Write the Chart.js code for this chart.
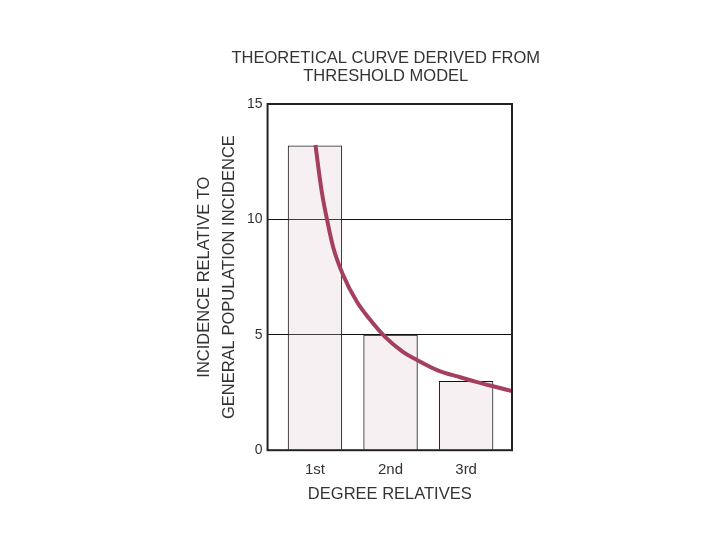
<!DOCTYPE html>
<html lang="en">
<head>
    <meta charset="UTF-8">
    <title>Theoretical curve derived from threshold model</title>
    <script src="https://cdn.jsdelivr.net/npm/chart.js"></script>
    <style>
        html, body { margin: 0; padding: 0; background: #fff; }
        #wrap { width: 720px; height: 540px; }
    </style>
</head>
<body>
    <div id="wrap"><canvas id="chart"></canvas></div>

    <script>
        // degree of relationship -> observed incidence (bars)
        const degrees = [1, 2, 3];
        const degreeLabels = ['1st', '2nd', '3rd'];
        const barValues = [13.2, 5.0, 3.0];

        // theoretical curve
        const curveX = [1.007, 1.046, 1.095, 1.161, 1.244, 1.372, 1.557, 1.733, 1.931, 2.168, 2.327, 2.617, 2.921, 3.145, 3.356, 3.607];
        const curveY = [13.22, 12.22, 11.1, 9.97, 8.76, 7.59, 6.42, 5.64, 4.9, 4.25, 3.95, 3.47, 3.16, 2.95, 2.77, 2.56];

        const yTicks = [0, 5, 10, 15];
        const titleLines = ['THEORETICAL CURVE DERIVED FROM', 'THRESHOLD MODEL'];

        const textColor = '#333';
        const font = 'Liberation Sans, Arial, sans-serif';

        // box round the plot area, and the title centred over it
        const frame = {
            id: 'frame',
            afterDatasetsDraw(chart) {
                const a = chart.chartArea, c = chart.ctx;
                c.save();
                c.strokeStyle = '#222';
                c.lineWidth = 2;
                c.strokeRect(a.left, a.top, a.right - a.left, a.bottom - a.top);
                c.fillStyle = textColor;
                c.font = '16.5px ' + font;
                c.textAlign = 'center';
                c.textBaseline = 'middle';
                const cx = (a.left + a.right) / 2 - 4;
                titleLines.forEach((t, i) => c.fillText(t, cx, a.top - 46 + i * 18));
                c.restore();
            }
        };

        new Chart(document.getElementById('chart'), {
            data: {
                datasets: [
                    {
                        type: 'line',
                        data: curveX.map((x, i) => ({ x, y: curveY[i] })),
                        borderColor: '#a4405e',
                        borderWidth: 4,
                        pointRadius: 0,
                        cubicInterpolationMode: 'monotone',
                        fill: false,
                        clip: 0
                    },
                    {
                        type: 'bar',
                        data: degrees.map((d, i) => ({ x: d, y: barValues[i] })),
                        backgroundColor: 'rgba(225, 195, 205, 0.25)',
                        borderColor: '#111',
                        borderWidth: 1,
                        borderSkipped: 'bottom',
                        barPercentage: 0.72,
                        categoryPercentage: 1
                    }
                ]
            },
            options: {
                responsive: true,
                maintainAspectRatio: false,
                animation: false,
                layout: { padding: { left: 184.5, right: 208, top: 104, bottom: 36 } },
                plugins: {
                    legend: { display: false },
                    tooltip: { enabled: false },
                    title: { display: false }
                },
                scales: {
                    x: {
                        type: 'linear',
                        offset: false,
                        min: 0.373,
                        max: 3.607,
                        afterBuildTicks: s => { s.ticks = degrees.map(v => ({ value: v })); },
                        ticks: {
                            color: textColor,
                            font: { family: font, size: 15 },
                            padding: 11,
                            callback: v => degreeLabels[degrees.indexOf(v)] || ''
                        },
                        grid: { display: false, drawTicks: false },
                        border: { display: false },
                        title: {
                            display: true,
                            text: 'DEGREE RELATIVES',
                            color: textColor,
                            font: { family: font, size: 16.5 },
                            padding: { top: -6, bottom: 0 }
                        }
                    },
                    y: {
                        min: 0,
                        max: 15,
                        afterBuildTicks: s => { s.ticks = yTicks.map(v => ({ value: v })); },
                        ticks: {
                            color: textColor,
                            font: { family: font, size: 14 },
                            padding: 5
                        },
                        grid: { color: '#111', lineWidth: 1, drawTicks: false },
                        border: { display: false },
                        title: {
                            display: true,
                            text: ['INCIDENCE RELATIVE TO', 'GENERAL POPULATION INCIDENCE'],
                            color: textColor,
                            font: { family: font, size: 16.5, lineHeight: 1.5 },
                            padding: { top: 8, bottom: 0 }
                        }
                    }
                }
            },
            plugins: [frame]
        });
    </script>
</body>
</html>
